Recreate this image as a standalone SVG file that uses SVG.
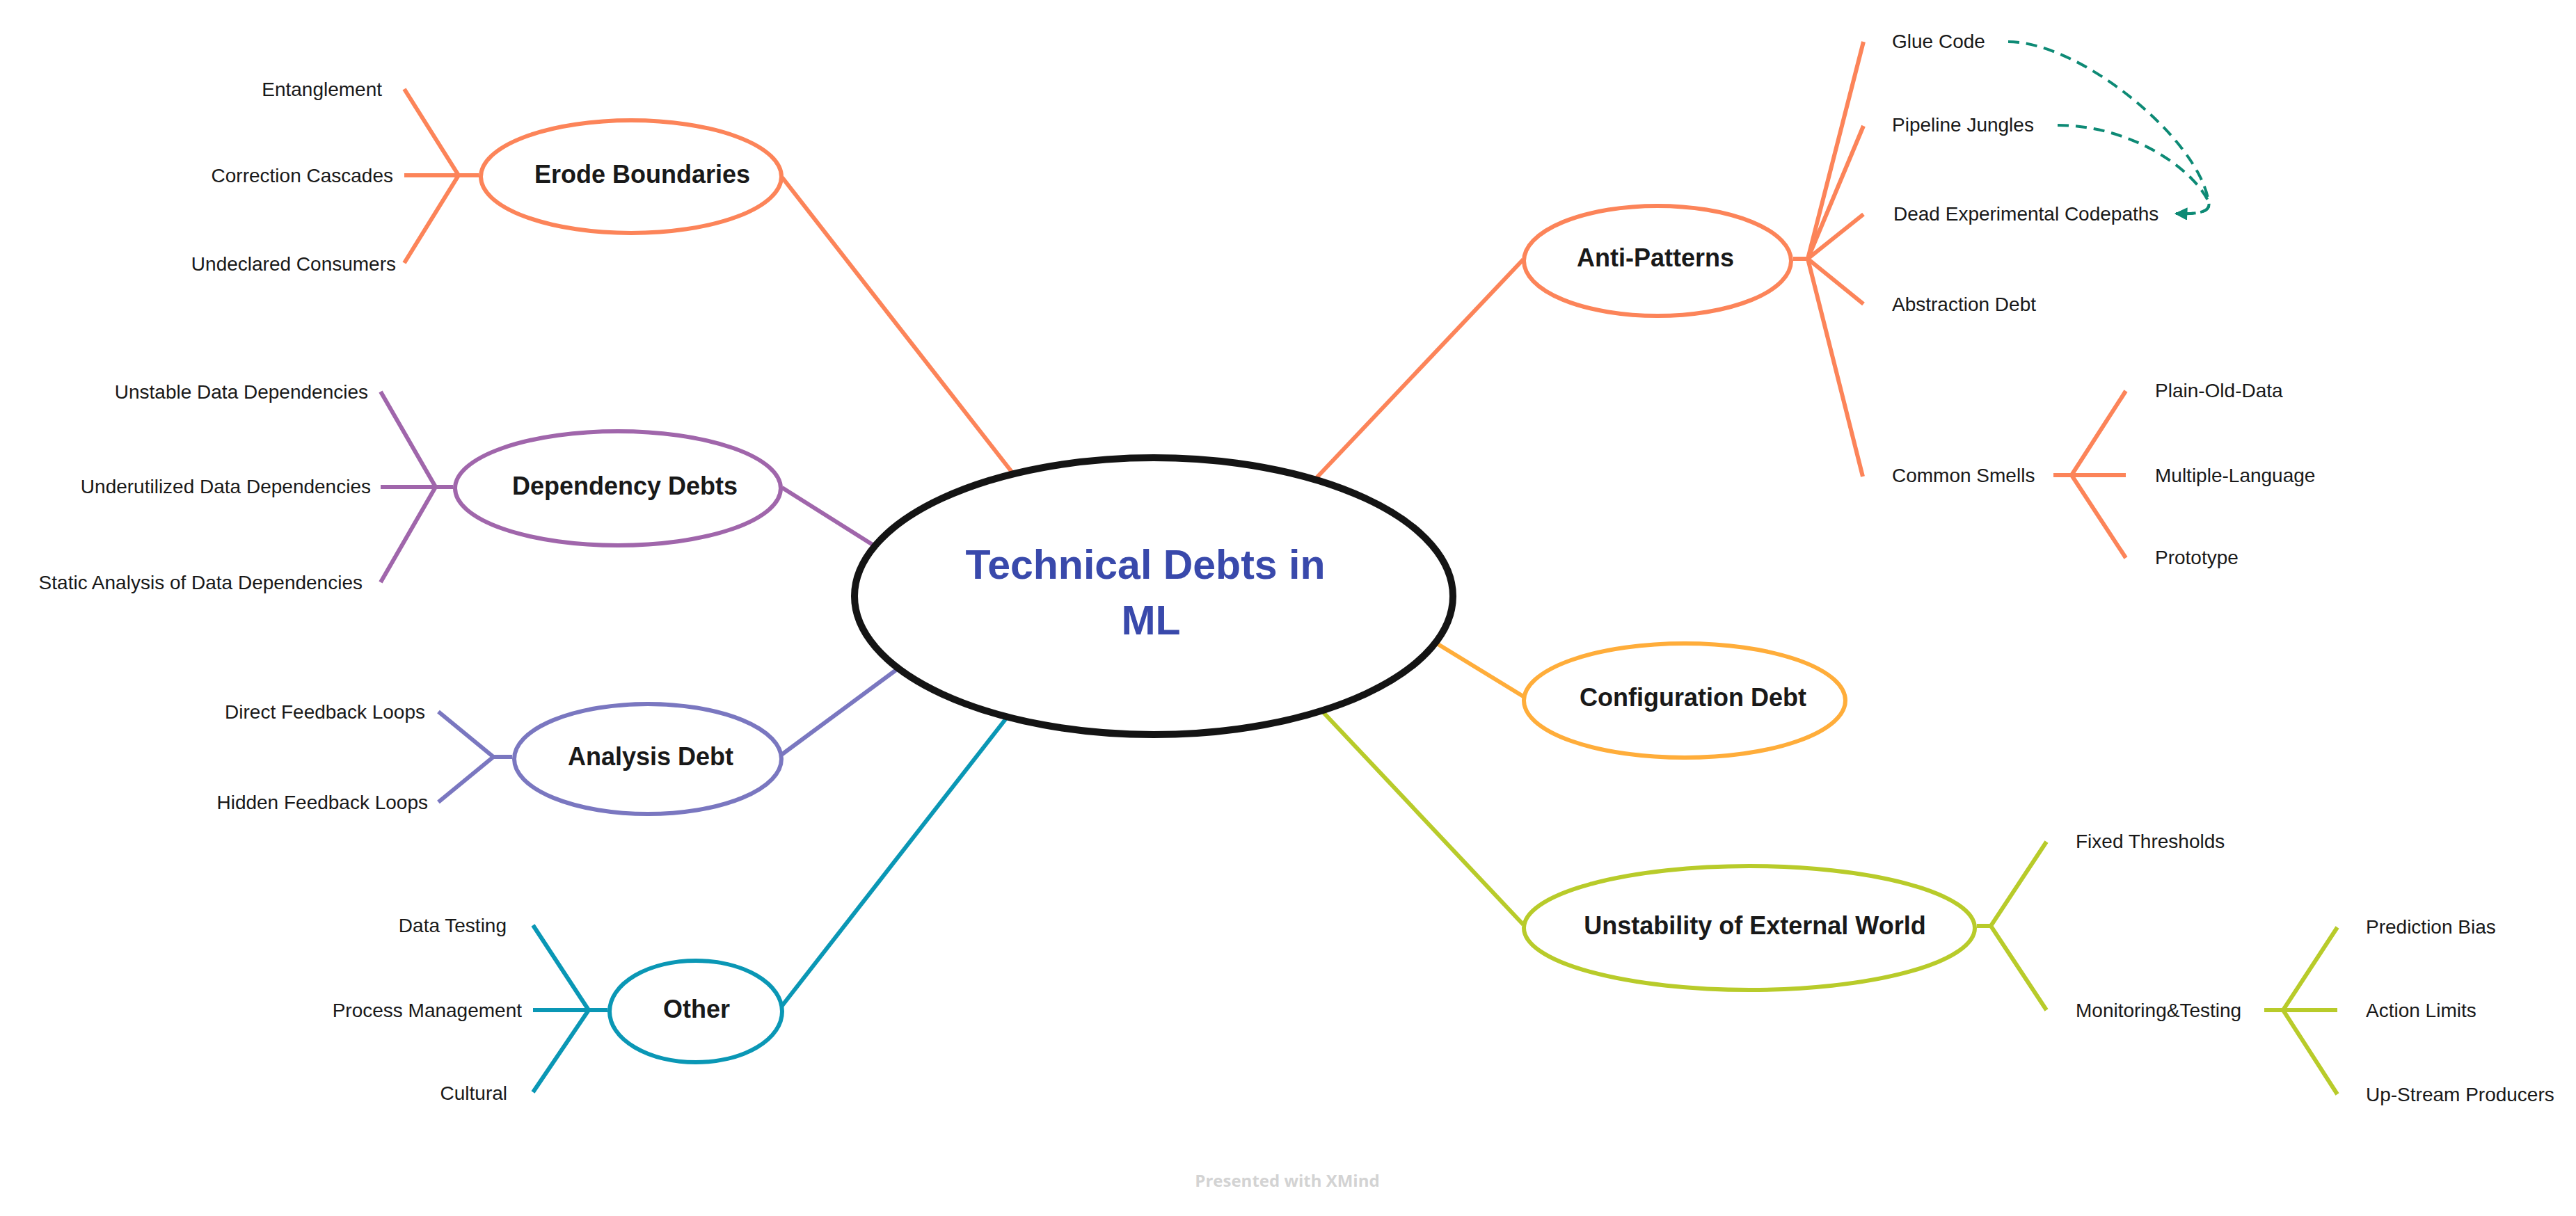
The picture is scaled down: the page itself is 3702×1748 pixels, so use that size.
<svg xmlns="http://www.w3.org/2000/svg" width="3702" height="1748" viewBox="0 0 3702 1748">
<style>
  .ln{fill:none;stroke-width:6;stroke-linecap:butt;stroke-linejoin:miter}
  .or{stroke:#fc8459}.pu{stroke:#a066ab}.vi{stroke:#7a77c0}.te{stroke:#0a97b5}.am{stroke:#ffad3a}.gr{stroke:#b8cb2a}
  .topic{fill:#ffffff;stroke-width:6}
  .tt{font-family:"Liberation Sans",Arial,sans-serif;font-weight:bold;font-size:36px;fill:#191919;text-anchor:middle}
  .st{font-family:"Liberation Sans",Arial,sans-serif;font-size:28px;fill:#191919}
  .l{text-anchor:end}.r{text-anchor:start}
  .rel{fill:none;stroke:#0d8a75;stroke-width:4;stroke-dasharray:16 10}
</style>
<defs>
  <marker id="arr" viewBox="0 0 10 10" refX="9" refY="5" markerUnits="userSpaceOnUse" markerWidth="20" markerHeight="18" orient="auto">
    <path d="M0,0 L10,5 L0,10 z" fill="#0d8a75"/>
  </marker>
</defs>
<rect width="3702" height="1748" fill="#ffffff"/>
<g id="connectors">
  <line class="ln or" x1="1124" y1="255" x2="1460" y2="686"/>
  <line class="ln pu" x1="1124" y1="701" x2="1262" y2="788"/>
  <line class="ln vi" x1="1123" y1="1085" x2="1296" y2="957"/>
  <line class="ln te" x1="1123" y1="1447" x2="1452" y2="1025"/>
  <line class="ln or" x1="2189" y1="373" x2="1888" y2="691"/>
  <line class="ln am" x1="2189" y1="1001" x2="2060" y2="922"/>
  <line class="ln gr" x1="2189" y1="1329" x2="1896" y2="1018"/>
  <path class="ln or" d="M581,128 L659,252 L581,378 M581,252 L688,252"/>
  <path class="ln pu" d="M547,563 L626,700 L547,837 M547,700 L651,700"/>
  <path class="ln vi" d="M630,1023 L709,1088 L630,1153 M709,1088 L736,1088"/>
  <path class="ln te" d="M766,1330 L846,1452 L766,1570 M766,1452 L873,1452"/>
  <path class="ln or" d="M2577,372 L2598,372 M2678,60 L2598,372 L2678,181 M2678,308 L2598,372 L2678,437 M2598,372 L2677,685"/>
  <path class="ln or" d="M2951,683 L3055,683 M3055,562 L2977,683 L3055,802"/>
  <path class="ln gr" d="M2841,1331 L2861,1331 M2941,1210 L2861,1331 L2941,1452"/>
  <path class="ln gr" d="M3254,1452 L3359,1452 M3359,1333 L3281,1452 L3359,1573"/>
  <path class="rel" d="M2886,60 C2990,60 3160,200 3174,290 C3178,305 3160,308 3127,307" marker-end="url(#arr)"/>
  <path class="rel" d="M2957,180 C3060,180 3150,240 3174,290 C3178,305 3160,308 3127,307" marker-end="url(#arr)"/>
</g>
<g id="central">
  <ellipse cx="1658" cy="857" rx="430" ry="199" fill="#ffffff" stroke="#141414" stroke-width="10"/>
  <text x="1646" y="832" font-family="Liberation Sans, Arial, sans-serif" font-weight="bold" font-size="59" fill="#3949ab" text-anchor="middle">Technical Debts in</text>
  <text x="1654" y="912" font-family="Liberation Sans, Arial, sans-serif" font-weight="bold" font-size="59" fill="#3949ab" text-anchor="middle">ML</text>
</g>
<g id="erode-boundaries">
  <ellipse class="topic or" cx="907" cy="254" rx="216" ry="81"/>
  <text class="tt" x="923" y="263">Erode Boundaries</text>
</g>
<g id="entanglement"><text class="st l" x="549" y="138">Entanglement</text></g>
<g id="correction-cascades"><text class="st l" x="565" y="262">Correction Cascades</text></g>
<g id="undeclared-consumers"><text class="st l" x="569" y="389">Undeclared Consumers</text></g>
<g id="dependency-debts">
  <ellipse class="topic pu" cx="888" cy="702" rx="234" ry="82"/>
  <text class="tt" x="898" y="711">Dependency Debts</text>
</g>
<g id="unstable-data"><text class="st l" x="529" y="573">Unstable Data Dependencies</text></g>
<g id="underutilized-data"><text class="st l" x="533" y="709">Underutilized Data Dependencies</text></g>
<g id="static-analysis"><text class="st l" x="521" y="847">Static Analysis of Data Dependencies</text></g>
<g id="analysis-debt">
  <ellipse class="topic vi" cx="931" cy="1091" rx="192" ry="79"/>
  <text class="tt" x="935" y="1100">Analysis Debt</text>
</g>
<g id="direct-feedback"><text class="st l" x="611" y="1033">Direct Feedback Loops</text></g>
<g id="hidden-feedback"><text class="st l" x="615" y="1163">Hidden Feedback Loops</text></g>
<g id="other">
  <ellipse class="topic te" cx="1000" cy="1454" rx="124" ry="73"/>
  <text class="tt" x="1001" y="1463">Other</text>
</g>
<g id="data-testing"><text class="st l" x="728" y="1340">Data Testing</text></g>
<g id="process-management"><text class="st l" x="750" y="1462">Process Management</text></g>
<g id="cultural"><text class="st l" x="729" y="1581">Cultural</text></g>
<g id="anti-patterns">
  <ellipse class="topic or" cx="2382" cy="375" rx="192" ry="79"/>
  <text class="tt" x="2379" y="383">Anti-Patterns</text>
</g>
<g id="glue-code"><text class="st r" x="2719" y="69">Glue Code</text></g>
<g id="pipeline-jungles"><text class="st r" x="2719" y="189">Pipeline Jungles</text></g>
<g id="dead-experimental"><text class="st r" x="2721" y="317">Dead Experimental Codepaths</text></g>
<g id="abstraction-debt"><text class="st r" x="2719" y="447">Abstraction Debt</text></g>
<g id="common-smells"><text class="st r" x="2719" y="693">Common Smells</text></g>
<g id="plain-old-data"><text class="st r" x="3097" y="571">Plain-Old-Data</text></g>
<g id="multiple-language"><text class="st r" x="3097" y="693">Multiple-Language</text></g>
<g id="prototype"><text class="st r" x="3097" y="811">Prototype</text></g>
<g id="configuration-debt">
  <ellipse class="topic am" cx="2421" cy="1007" rx="231" ry="82"/>
  <text class="tt" x="2433" y="1015">Configuration Debt</text>
</g>
<g id="unstability">
  <ellipse class="topic gr" cx="2514" cy="1334" rx="324" ry="89"/>
  <text class="tt" x="2522" y="1343">Unstability of External World</text>
</g>
<g id="fixed-thresholds"><text class="st r" x="2983" y="1219">Fixed Thresholds</text></g>
<g id="monitoring-testing"><text class="st r" x="2983" y="1462">Monitoring&amp;Testing</text></g>
<g id="prediction-bias"><text class="st r" x="3400" y="1342">Prediction Bias</text></g>
<g id="action-limits"><text class="st r" x="3400" y="1462">Action Limits</text></g>
<g id="up-stream"><text class="st r" x="3400" y="1583">Up-Stream Producers</text></g>
<text x="1850" y="1706" font-family="Open Sans, Liberation Sans, sans-serif" font-weight="bold" font-size="24" fill="#d3d3d3" text-anchor="middle">Presented with XMind</text>
</svg>
